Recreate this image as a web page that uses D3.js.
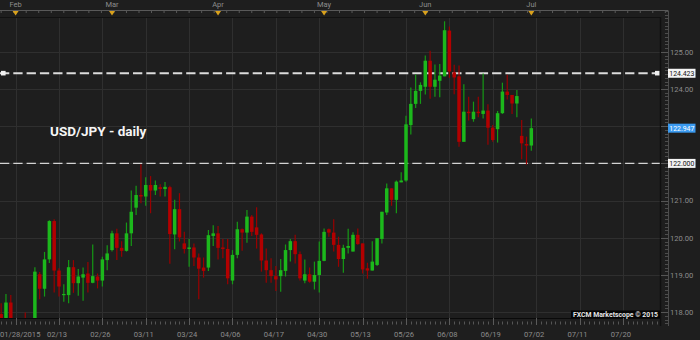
<!DOCTYPE html>
<html><head><meta charset="utf-8">
<script src="https://cdn.jsdelivr.net/npm/d3@7"></script>
<style>html,body{margin:0;padding:0;background:#1e1e1e;overflow:hidden}svg{display:block}</style>
</head><body><svg id="c" width="700" height="340"></svg>
<script>
// ---- data (daily USD/JPY candles, 01/28/2015 .. 07/01/2015) ----
const openV  = [117.95,117.50,118.26,117.50,117.60,117.45,117.20,117.50,119.02,118.63,
                119.42,120.45,119.12,118.46,118.46,119.21,118.78,118.93,119.04,118.79,
                118.96,118.85,119.40,119.67,120.12,119.73,119.65,120.12,120.81,121.15,
                121.11,121.42,121.27,121.36,121.31,121.36,120.09,120.77,119.85,119.70,
                119.74,119.47,119.20,119.20,120.05,120.12,119.74,119.70,118.85,119.54,
                120.23,120.14,120.57,120.28,120.09,119.39,119.13,118.97,118.97,119.11,
                119.67,119.91,119.56,118.85,119.02,118.82,119.00,119.38,120.23,120.14,
                119.81,119.43,119.73,119.63,120.08,119.85,119.18,119.12,119.27,119.97,
                120.68,121.33,121.02,121.49,121.54,123.03,123.60,123.95,124.06,124.76,
                124.06,124.22,124.34,125.57,124.45,124.34,122.58,123.39,123.19,123.39,
                123.33,123.42,122.96,122.92,123.35,123.93,123.84,123.61,122.74,122.52,
                122.48];
const highV  = [118.24,118.49,118.46,117.80,117.80,117.99,117.75,119.21,119.08,119.62,
                120.47,120.50,119.18,118.75,119.40,119.40,119.16,119.20,119.35,119.82,
                119.04,119.49,119.80,120.19,120.24,119.91,120.41,121.27,121.40,121.98,
                121.63,121.66,121.54,121.44,121.50,121.40,121.02,121.20,120.16,119.97,
                119.85,119.58,119.47,120.21,120.34,120.32,119.97,119.97,119.67,120.43,
                120.25,120.75,120.61,120.82,120.12,119.71,119.45,119.24,119.43,119.82,
                119.97,120.08,119.63,119.42,119.20,119.36,119.90,120.25,120.25,120.50,
                120.03,119.81,120.24,120.15,120.25,119.85,119.33,119.91,119.99,120.70,
                121.46,121.33,121.54,121.76,123.28,124.04,124.39,124.18,124.90,125.03,
                124.66,124.67,125.82,125.68,124.65,124.63,124.13,123.79,123.66,123.79,
                124.42,123.59,123.03,123.41,124.17,124.38,123.84,123.97,123.17,122.72,
                123.21];
const lowV   = [117.30,117.35,117.25,117.00,117.20,116.90,116.90,117.30,118.35,118.42,
                119.32,118.53,118.42,118.28,118.24,118.52,118.44,118.31,118.53,118.78,
                118.64,118.69,119.13,119.63,119.40,119.49,119.63,119.78,120.61,120.93,
                120.86,120.66,121.15,121.11,121.11,119.30,119.69,119.90,119.58,119.22,
                119.24,118.35,118.93,119.11,119.78,119.42,119.45,118.75,118.75,119.45,
                119.65,119.87,120.05,119.71,119.09,118.79,118.79,118.57,118.55,118.96,
                119.36,119.31,118.85,118.78,118.79,118.61,118.53,119.37,120.03,119.63,
                119.22,119.06,119.58,119.63,119.81,119.04,118.90,119.12,119.24,119.85,
                120.61,120.86,120.66,121.49,121.51,122.78,123.49,123.60,123.85,123.74,
                123.79,123.78,124.34,124.30,123.86,122.45,122.58,123.15,123.12,123.24,
                123.21,122.50,122.58,122.56,123.33,123.72,123.33,123.24,122.11,121.97,
                122.34];
const closeV = [117.50,118.26,117.50,117.60,117.40,117.20,117.50,119.09,118.63,119.42,
                120.45,119.12,118.69,118.49,119.21,118.78,118.96,119.02,118.79,118.97,
                118.85,119.42,119.58,120.12,119.73,119.65,120.12,120.70,121.15,121.11,
                121.42,121.27,121.42,121.31,121.37,120.10,120.77,120.01,119.70,119.74,
                119.47,119.17,119.11,120.07,120.12,119.73,119.70,118.91,119.54,120.23,
                120.14,120.57,120.16,120.08,119.39,119.13,118.97,118.88,119.13,119.67,
                119.91,119.56,118.91,119.02,118.82,119.00,119.38,120.16,120.14,119.81,
                119.43,119.73,119.78,120.08,119.83,119.15,119.12,119.36,119.99,120.70,
                121.33,121.02,121.51,121.54,123.05,123.60,123.95,124.11,124.76,124.06,
                124.25,124.36,125.58,124.47,124.31,122.58,123.39,123.35,123.39,123.35,
                123.42,122.96,122.63,123.35,123.93,123.84,123.61,123.81,122.54,122.48,
                122.947];
const xTickIdx    = [3,12,21,30,39,48,57,66,75,84,93,102,111,120,129];
const xTickLabels = ["01/28/2015","02/13","02/26","03/11","03/24","04/06","04/17","04/30",
                     "05/13","05/26","06/08","06/19","07/02","07/11","07/20"];
const monthIdx    = [3,23,45,67,88,110];
const monthLabels = ["Feb","Mar","Apr","May","Jun","Jul"];
const yGrid       = [118,119,120,121,122,123,124,125];
const yLabels     = [125,124,121,120,119,118];
const levels      = [124.423,122.000];
const lastPrice   = 122.947;
const title       = "USD/JPY - daily";
const copyright   = "FXCM Marketscope © 2015";

// ---- layout ----
const svg = d3.select("#c");
const PL=0, PT=17, PR=660, PB=318, AX=668;
const x = d3.scaleLinear().domain([0,129]).range([1.15,622.9]);
const y = d3.scaleLinear().domain([118,125]).range([312.2,51.8]);
const candles = openV.map((o,i)=>({i,o,h:highV[i],l:lowV[i],c:closeV[i]}));

svg.append("rect").attr("width",700).attr("height",340).attr("fill","#1e1e1e");
svg.append("defs").append("clipPath").attr("id","pc")
  .append("rect").attr("x",PL).attr("y",PT).attr("width",PR-PL).attr("height",PB-PT);

// grid
const grid = svg.append("g").attr("clip-path","url(#pc)");
grid.selectAll("line.h").data(yGrid).join("line")
  .attr("x1",PL).attr("x2",PR).attr("y1",d=>Math.round(y(d))+0.5).attr("y2",d=>Math.round(y(d))+0.5)
  .attr("stroke","#2f2f2f").attr("stroke-width",1);
grid.selectAll("line.v").data(xTickIdx).join("line")
  .attr("y1",PT).attr("y2",PB).attr("x1",d=>Math.round(x(d))+0.5).attr("x2",d=>Math.round(x(d))+0.5)
  .attr("stroke","#2f2f2f").attr("stroke-width",1);

// level lines
const lv = svg.append("g");
lv.append("line").attr("x1",0).attr("x2",656).attr("y1",y(levels[0])).attr("y2",y(levels[0]))
  .attr("stroke","#dcdcdc").attr("stroke-width",1.8).attr("stroke-dasharray","9.3,4");
lv.append("line").attr("x1",0).attr("x2",PR).attr("y1",y(levels[1])).attr("y2",y(levels[1]))
  .attr("stroke","#d4d4d4").attr("stroke-width",1.4).attr("stroke-dasharray","9.3,4");
[1,655].forEach(px=>lv.append("rect").attr("x",px).attr("y",y(levels[0])-2.4)
  .attr("width",4.6).attr("height",4.6).attr("fill","#f0f0f0"));

// candles
const cg = svg.append("g").attr("clip-path","url(#pc)");
cg.selectAll("line.w").data(candles).join("line")
  .attr("x1",d=>x(d.i)).attr("x2",d=>x(d.i)).attr("y1",d=>y(d.h)).attr("y2",d=>y(d.l))
  .attr("stroke",d=>d.c>=d.o?"#159a15":"#990000").attr("stroke-width",1.2);
cg.selectAll("rect.b").data(candles).join("rect")
  .attr("x",d=>x(d.i)-1.75).attr("width",3.5)
  .attr("y",d=>y(Math.max(d.o,d.c)))
  .attr("height",d=>Math.max(1.2,Math.abs(y(d.o)-y(d.c))))
  .attr("fill",d=>d.c>=d.o?"#1cb81c":"#b30000");

// plot frame
svg.append("line").attr("x1",0).attr("x2",PR).attr("y1",PT+0.5).attr("y2",PT+0.5).attr("stroke","#111");
svg.append("line").attr("x1",0).attr("x2",PR).attr("y1",PB+0.5).attr("y2",PB+0.5).attr("stroke","#0a0a0a");
svg.append("line").attr("x1",PR+0.5).attr("x2",PR+0.5).attr("y1",PT).attr("y2",PB+8).attr("stroke","#101010").attr("stroke-width",1.5);

const axisFont = "Roboto, 'Liberation Sans', sans-serif";
// top month bar
const tb = svg.append("g");
tb.append("line").attr("x1",0).attr("x2",AX).attr("y1",10.5).attr("y2",10.5).attr("stroke","#595959");
tb.selectAll("line.t").data(d3.range(0,260,1)).join("line")
  .attr("x1",d=>x(d*2.6)).attr("x2",d=>x(d*2.6)).attr("y1",10.5).attr("y2",13)
  .attr("stroke","#595959").style("display",d=>x(d*2.6)>AX?"none":null);
tb.selectAll("path.m").data(monthIdx).join("path")
  .attr("d",d=>`M${x(d)-3},11 L${x(d)+3},11 L${x(d)},15.5 Z`).attr("fill","#d9a11c");
tb.selectAll("text.m").data(monthIdx).join("text")
  .attr("x",d=>x(d)).attr("y",7.3).attr("text-anchor","middle")
  .attr("font-family",axisFont).attr("font-size",7.5).attr("fill","#8c8c8c")
  .text((d,i)=>monthLabels[i]);

// bottom axis
const bx = svg.append("g");
bx.selectAll("line.mi").data(d3.range(0,137)).join("line")
  .attr("x1",d=>Math.round(x(d))+0.5).attr("x2",d=>Math.round(x(d))+0.5).attr("y1",321.5).attr("y2",324.5)
  .attr("stroke","#555").style("display",d=>x(d)>PR?"none":null);
bx.selectAll("line.ma").data(xTickIdx).join("line")
  .attr("x1",d=>Math.round(x(d))+0.5).attr("x2",d=>Math.round(x(d))+0.5).attr("y1",PB).attr("y2",325)
  .attr("stroke","#5a5a5a");
bx.selectAll("text").data(xTickIdx).join("text")
  .attr("x",(d,i)=>i===0?0:x(d)-2).attr("y",336.5)
  .attr("text-anchor",(d,i)=>i===0?"start":"middle")
  .attr("font-family",axisFont).attr("font-size",7.6).attr("fill","#8c8c8c")
  .text((d,i)=>xTickLabels[i]);

// right axis
const ry = svg.append("g");
ry.append("line").attr("x1",AX+0.5).attr("x2",AX+0.5).attr("y1",10.5).attr("y2",326).attr("stroke","#4d4d4d");
const minor = d3.range(1177,1262).map(v=>v/10);
ry.selectAll("line.mi").data(minor).join("line")
  .attr("x1",665).attr("x2",AX).attr("y1",d=>Math.round(y(d))+0.5).attr("y2",d=>Math.round(y(d))+0.5)
  .attr("stroke","#4d4d4d");
ry.selectAll("line.ma").data(yGrid).join("line")
  .attr("x1",PR+1).attr("x2",AX).attr("y1",d=>Math.round(y(d))+0.5).attr("y2",d=>Math.round(y(d))+0.5)
  .attr("stroke","#555");
ry.selectAll("text").data(yLabels).join("text")
  .attr("x",670).attr("y",d=>y(d)+2.7)
  .attr("font-family",axisFont).attr("font-size",7.6).attr("fill","#8c8c8c")
  .text(d=>d3.format(".2f")(d));

// price flags
const flags = [{v:levels[0],bg:"#f4f4f4",fg:"#111",t:d3.format(".3f")(levels[0])},
               {v:lastPrice,bg:"#3a9af0",fg:"#fff",t:d3.format(".3f")(lastPrice)},
               {v:levels[1],bg:"#f4f4f4",fg:"#111",t:d3.format(".3f")(levels[1])}];
const fg = svg.append("g").selectAll("g").data(flags).join("g");
fg.append("rect").attr("x",668).attr("y",d=>y(d.v)-4.5).attr("width",27.5).attr("height",9).attr("fill",d=>d.bg);
fg.append("text").attr("x",669.3).attr("y",d=>y(d.v)+2.7)
  .attr("font-family",axisFont).attr("font-size",7.6).attr("fill",d=>d.fg)
  .attr("textLength",25).attr("lengthAdjust","spacingAndGlyphs").text(d=>d.t);

// title
svg.append("text").attr("x",50).attr("y",136).attr("font-family","Roboto, 'Liberation Sans', sans-serif")
  .attr("font-weight","bold").attr("font-size",13.5).attr("fill","#f5f5f5").text(title);

// copyright
svg.append("rect").attr("x",571).attr("y",310.5).attr("width",89).attr("height",7.5).attr("fill","#050505");
svg.append("text").attr("x",573).attr("y",317).attr("font-family",axisFont).attr("font-weight","bold")
  .attr("font-size",7).attr("fill","#e6e6e6").attr("textLength",85).attr("lengthAdjust","spacingAndGlyphs")
  .text(copyright);
</script></body></html>
